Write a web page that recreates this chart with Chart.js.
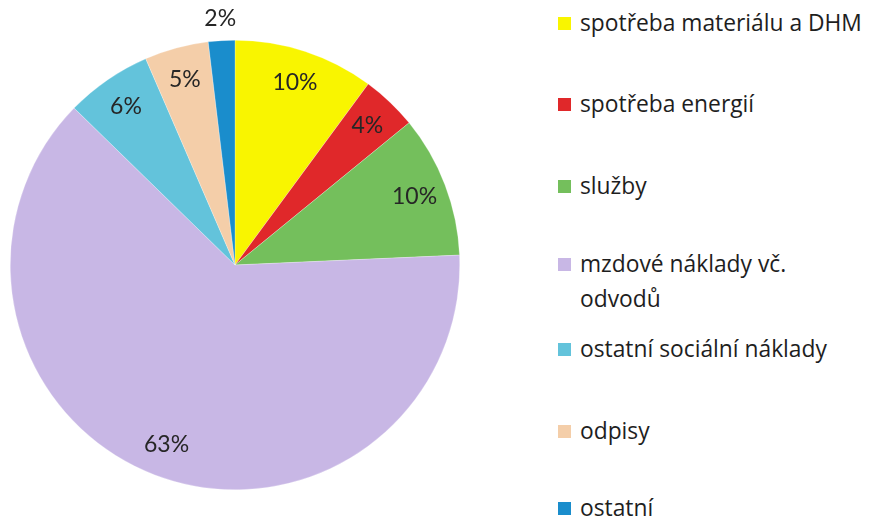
<!DOCTYPE html>
<html>
<head>
<meta charset="utf-8">
<script src="https://cdn.jsdelivr.net/npm/chart.js@4/dist/chart.umd.min.js"></script>
<style>
  html, body { margin: 0; padding: 0; background: #fff; }
  #wrap { position: relative; width: 870px; height: 521px; overflow: hidden; }
  #pieBox { position: absolute; left: 0; top: 0; width: 470px; height: 521px; }
  #legend { position: absolute; left: 558px; top: 0; width: 312px; height: 521px; }
  .item { position: absolute; left: 0; font-family: "Open Sans", sans-serif; font-size: 22.8px; line-height: 35px; color: #1e1e1e; }
  .item .sw { position: absolute; left: 0; top: 12px; width: 13px; height: 13px; }
  .item .txt { position: absolute; left: 22px; white-space: nowrap; }
</style>
</head>
<body>
<div id="wrap">
  <div id="pieBox"><canvas id="costChart"></canvas></div>
  <div id="legend"></div>
</div>
<script>
// categories and shares (%)
const categories = ['spotřeba materiálu a DHM', 'spotřeba energií', 'služby', 'mzdové náklady vč.\nodvodů', 'ostatní sociální náklady', 'odpisy', 'ostatní'];
const shares = [10.1, 4.0, 10.2, 63.0, 6.2, 4.6, 1.9];
const sliceColors = ['#f9f500', '#e0282a', '#74bf5c', '#c8b7e5', '#63c3db', '#f4cea9', '#1a8dcc'];

// first-line centres of the legend entries
const legendRows = [22, 103, 185, 263, 348, 430, 507];

const pctLabels = {
  id: 'pctLabels',
  afterDatasetsDraw(chart) {
    const ctx = chart.ctx;
    const arcs = chart.getDatasetMeta(0).data;
    ctx.save();
    ctx.font = '23px Lato, sans-serif';
    ctx.fillStyle = '#262626';
    ctx.textAlign = 'center';
    ctx.textBaseline = 'middle';
    arcs.forEach((arc, i) => {
      const v = shares[i];
      const mid = (arc.startAngle + arc.endAngle) / 2;
      const r = arc.outerRadius * (v < 3 ? 1.1 : 0.855);
      ctx.fillText(Math.round(v) + '%', arc.x + Math.cos(mid) * r, arc.y + Math.sin(mid) * r);
    });
    ctx.restore();
  }
};

new Chart(document.getElementById('costChart'), {
  type: 'pie',
  data: {
    labels: categories,
    datasets: [{
      data: shares,
      backgroundColor: sliceColors,
      borderColor: 'rgba(255,255,255,0.5)',
      borderWidth: 0.5
    }]
  },
  options: {
    responsive: true,
    maintainAspectRatio: false,
    animation: false,
    layout: { padding: { top: 40, bottom: 31, left: 10, right: 10 } },
    plugins: {
      legend: { display: false },
      tooltip: { enabled: false }
    }
  },
  plugins: [pctLabels]
});

// legend built from the same arrays
const legendBox = document.getElementById('legend');
categories.forEach((name, i) => {
  const item = document.createElement('div');
  item.className = 'item';
  item.style.top = (legendRows[i] - 17.5) + 'px';
  const sw = document.createElement('span');
  sw.className = 'sw';
  sw.style.background = sliceColors[i];
  const txt = document.createElement('span');
  txt.className = 'txt';
  txt.innerHTML = name.split('\n').join('<br>');
  item.appendChild(sw);
  item.appendChild(txt);
  legendBox.appendChild(item);
});
</script>
</body>
</html>
